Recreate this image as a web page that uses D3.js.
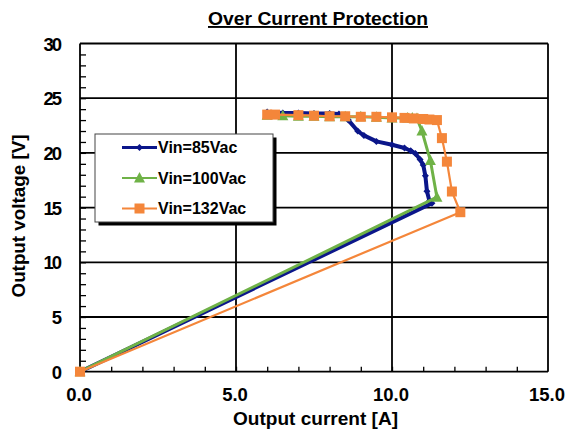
<!DOCTYPE html>
<html>
<head>
<meta charset="utf-8">
<script src="https://cdn.jsdelivr.net/npm/d3@7"></script>
<style>
  body { margin: 0; background: #fff; }
  text { font-family: "Liberation Sans", Arial, sans-serif; font-weight: bold; fill: #000; }
</style>
</head>
<body>
<div id="chart"></div>
<script>
// data: output current [A], output voltage [V]
const xTicks = [0, 5, 10, 15];
const yTicks = [0, 5, 10, 15, 20, 25, 30];

const current85 = [6.0, 6.5, 7.0, 7.5, 8.0, 8.3, 8.6, 8.9, 9.1, 9.5, 10.0, 10.4, 10.6, 10.75, 10.9, 11.0, 11.07, 11.12, 11.2, 11.28, 0];
const voltage85 = [23.75, 23.65, 23.65, 23.6, 23.6, 23.55, 23.0, 22.0, 21.6, 21.05, 20.75, 20.45, 20.2, 19.95, 19.4, 18.9, 17.9, 16.5, 15.6, 15.4, 0];

const current100 = [6.0, 6.5, 7.0, 7.5, 8.0, 8.5, 9.0, 9.5, 10.0, 10.5, 10.65, 10.8, 10.96, 11.23, 11.44, 0];
const voltage100 = [23.45, 23.4, 23.35, 23.35, 23.3, 23.3, 23.3, 23.25, 23.2, 23.2, 23.2, 23.15, 22.0, 19.3, 15.95, 0];

const current132 = [6.0, 6.25, 7.0, 7.5, 8.0, 8.5, 9.0, 9.5, 10.0, 10.4, 10.7, 11.0, 11.2, 11.44, 11.6, 11.76, 11.92, 12.19, 0];
const voltage132 = [23.5, 23.5, 23.45, 23.4, 23.35, 23.35, 23.3, 23.3, 23.25, 23.2, 23.15, 23.1, 23.05, 23.0, 21.35, 19.2, 16.47, 14.58, 0];

const series = [
  {name: "Vin=85Vac", x: current85, y: voltage85, color: "#0b168a", width: 4, marker: "diamond"},
  {name: "Vin=100Vac", x: current100, y: voltage100, color: "#6fb247", width: 3, marker: "triangle"},
  {name: "Vin=132Vac", x: current132, y: voltage132, color: "#f4863a", width: 2.2, marker: "square"}
];

const margin = {top: 43.5, right: 18, bottom: 67.3, left: 80},
    width = 566 - margin.left - margin.right,
    height = 439 - margin.top - margin.bottom;

const svg = d3.select("#chart")
  .append("svg")
    .attr("width", 566)
    .attr("height", 439)
  .append("g")
    .attr("transform", `translate(${margin.left},${margin.top})`);

const x = d3.scaleLinear().domain([0, 15]).range([0, width]);
const y = d3.scaleLinear().domain([0, 30]).range([height, 0]);

// minor ticks, pointing inward
svg.append("g")
  .attr("transform", `translate(0,${height})`)
  .call(d3.axisTop(x).tickValues(d3.range(1, 15)).tickSize(5).tickFormat(""))
  .call(g => g.select(".domain").remove())
  .selectAll("line").attr("stroke", "#000").attr("stroke-width", 1.3);

svg.append("g")
  .call(d3.axisRight(y).tickValues(d3.range(1, 30)).tickSize(6).tickFormat(""))
  .call(g => g.select(".domain").remove())
  .selectAll("line").attr("stroke", "#000").attr("stroke-width", 1.3);

// grid
svg.append("g")
  .selectAll("line")
  .data(xTicks)
  .join("line")
    .attr("x1", d => x(d)).attr("x2", d => x(d))
    .attr("y1", 0).attr("y2", height)
    .attr("stroke", "#000").attr("stroke-width", 1.8);

svg.append("g")
  .selectAll("line")
  .data(yTicks)
  .join("line")
    .attr("x1", 0).attr("x2", width)
    .attr("y1", d => y(d)).attr("y2", d => y(d))
    .attr("stroke", "#000").attr("stroke-width", 1.8);

// tick labels
svg.append("g")
  .selectAll("text")
  .data(xTicks)
  .join("text")
    .attr("x", d => x(d) - 1)
    .attr("y", height + 29)
    .attr("text-anchor", "middle")
    .style("font-size", "18.5px")
    .text(d => d.toFixed(1));

svg.append("g")
  .selectAll("text")
  .data(yTicks)
  .join("text")
    .attr("x", -20)
    .attr("y", d => y(d) + 7)
    .attr("text-anchor", "end")
    .style("font-size", "18.5px")
    .style("letter-spacing", "-2px")
    .text(d => d);

// title
svg.append("text")
  .attr("x", 318 - margin.left)
  .attr("y", 25 - margin.top)
  .attr("text-anchor", "middle")
  .style("font-size", "19px")
  .style("text-decoration", "underline")
  .attr("textLength", 220)
  .attr("lengthAdjust", "spacingAndGlyphs")
  .text("Over Current Protection");

// axis titles
svg.append("text")
  .attr("x", 315.5 - margin.left)
  .attr("y", 424.5 - margin.top)
  .attr("text-anchor", "middle")
  .style("font-size", "19px")
  .attr("textLength", 165)
  .attr("lengthAdjust", "spacingAndGlyphs")
  .text("Output current [A]");

svg.append("text")
  .attr("text-anchor", "middle")
  .attr("transform", `translate(${25 - margin.left},${216 - margin.top})rotate(-90)`)
  .style("font-size", "19px")
  .attr("textLength", 163)
  .attr("lengthAdjust", "spacingAndGlyphs")
  .text("Output voltage [V]");

// markers
function drawMarker(g, type, color, cx, cy) {
  if (type === "square") {
    g.append("rect").attr("x", cx - 5).attr("y", cy - 5).attr("width", 10).attr("height", 10).attr("fill", color);
  } else if (type === "triangle") {
    g.append("path").attr("d", `M${cx},${cy - 6}L${cx + 5.5},${cy + 4.5}L${cx - 5.5},${cy + 4.5}Z`).attr("fill", color);
  } else {
    g.append("path").attr("d", `M${cx},${cy - 3.5}L${cx + 3.5},${cy}L${cx},${cy + 3.5}L${cx - 3.5},${cy}Z`).attr("fill", color);
  }
}

const line = d3.line().x(d => x(d[0])).y(d => y(d[1]));

series.forEach(s => {
  const pts = s.x.map((v, i) => [v, s.y[i]]);
  const g = svg.append("g");
  g.append("path")
    .datum(pts)
    .attr("fill", "none")
    .attr("stroke", s.color)
    .attr("stroke-width", s.width)
    .attr("stroke-linejoin", "round")
    .attr("d", line);
  pts.forEach(p => drawMarker(g, s.marker, s.color, x(p[0]), y(p[1])));
});

// legend
const lg = svg.append("g").attr("transform", `translate(${95 - margin.left},${134 - margin.top})`);
lg.append("rect").attr("x", 3.5).attr("y", 3.5).attr("width", 178).attr("height", 88).attr("fill", "#000");
lg.append("rect").attr("x", 0).attr("y", 0).attr("width", 178).attr("height", 88)
  .attr("fill", "#fff").attr("stroke", "#444").attr("stroke-width", 1);

series.forEach((s, i) => {
  const cy = 13.5 + i * 30.5;
  lg.append("line")
    .attr("x1", 27).attr("x2", 62)
    .attr("y1", cy).attr("y2", cy)
    .attr("stroke", s.color)
    .attr("stroke-width", i === 0 ? 3 : 2);
  drawMarker(lg, s.marker, s.color, 44.5, cy);
  lg.append("text")
    .attr("x", 63)
    .attr("y", cy + 5.5)
    .style("font-size", "16px")
    .text(s.name);
});
</script>
</body>
</html>
